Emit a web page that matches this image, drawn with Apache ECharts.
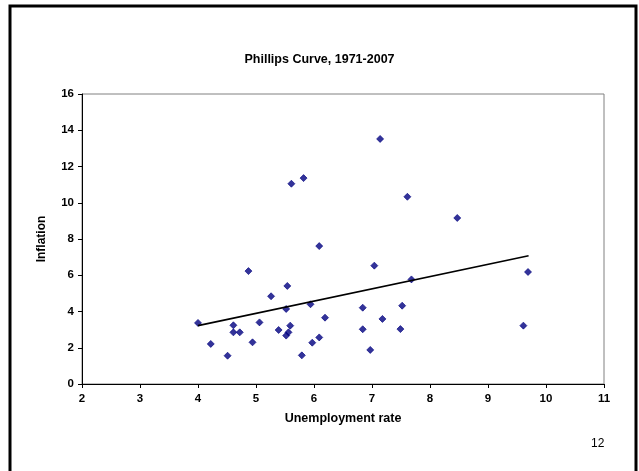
<!DOCTYPE html>
<html>
<head>
<meta charset="utf-8">
<script src="https://cdn.jsdelivr.net/npm/echarts@6/dist/echarts.min.js"></script>
<style>
  html, body { margin: 0; padding: 0; background: #fff; }
  #chart { width: 639px; height: 471px; }
</style>
</head>
<body>
<div id="chart"></div>
<script>
// Unemployment rate (%) and inflation (%) by year, 1971-2007
const unemployment = [
  4.00, 4.22, 4.51, 4.61, 4.61, 4.72, 4.87, 4.94, 5.06, 5.26,
  5.39, 5.52, 5.54, 5.52, 5.56, 5.59, 5.79, 5.94, 5.97, 6.09,
  6.09, 6.19, 5.61, 5.82, 7.14, 7.61, 8.47, 7.04, 7.68, 6.84,
  7.52, 7.18, 6.84, 7.49, 6.97, 9.61, 9.69
];
const inflation = [
  3.37, 2.21, 1.56, 3.24, 2.85, 2.85, 6.23, 2.30, 3.40, 4.84,
  2.98, 4.14, 5.41, 2.67, 2.85, 3.22, 1.58, 4.40, 2.28, 7.61,
  2.57, 3.66, 11.05, 11.36, 13.52, 10.33, 9.16, 6.53, 5.77, 4.21,
  4.32, 3.59, 3.02, 3.03, 1.88, 3.22, 6.18
];
// Linear trend line endpoints
const trendX = [4.0, 9.7];
const trendY = [3.22, 7.08];

const xTicks = { min: 2, max: 11, step: 1 };
const yTicks = { min: 0, max: 16, step: 2 };

const font = 'Liberation Sans, Arial, sans-serif';

const chart = echarts.init(document.getElementById('chart'), null, { renderer: 'canvas' });

chart.setOption({
  backgroundColor: '#ffffff',
  animation: false,
  title: {
    text: 'Phillips Curve, 1971-2007',
    left: 'center',
    top: 48,
    textStyle: { fontFamily: font, fontSize: 12.5, fontWeight: 'bold', color: '#000' }
  },
  graphic: [
    {
      type: 'rect',
      shape: { x: 10, y: 6, width: 626, height: 480 },
      style: { fill: 'none', stroke: '#000', lineWidth: 3 },
      silent: true
    },
    {
      type: 'text',
      left: 591,
      top: 438,
      style: { text: '12', font: '12px ' + font, fill: '#000' }
    }
  ],
  grid: {
    left: 82, right: 35, top: 94, bottom: 87,
    show: true,
    borderColor: '#808080',
    borderWidth: 1,
    backgroundColor: '#fff'
  },
  xAxis: {
    type: 'value',
    min: xTicks.min, max: xTicks.max, interval: xTicks.step,
    name: 'Unemployment rate',
    nameLocation: 'middle',
    nameGap: 28,
    nameTextStyle: { fontFamily: font, fontSize: 12.5, fontWeight: 'bold', color: '#000' },
    axisLine: { show: true, lineStyle: { color: '#000', width: 1 } },
    axisTick: { show: true, length: 4, inside: false, lineStyle: { color: '#000' } },
    axisLabel: { fontFamily: font, fontSize: 11.5, fontWeight: 'bold', color: '#000', margin: 9 },
    splitLine: { show: false }
  },
  yAxis: {
    type: 'value',
    min: yTicks.min, max: yTicks.max, interval: yTicks.step,
    name: 'Inflation',
    nameLocation: 'middle',
    nameGap: 34,
    nameRotate: 90,
    nameTextStyle: { fontFamily: font, fontSize: 12, fontWeight: 'bold', color: '#000' },
    axisLine: { show: true, lineStyle: { color: '#000', width: 1 } },
    axisTick: { show: true, length: 4, inside: false, lineStyle: { color: '#000' } },
    axisLabel: { fontFamily: font, fontSize: 11.5, fontWeight: 'bold', color: '#000', margin: 8 },
    splitLine: { show: false }
  },
  series: [
    {
      type: 'scatter',
      symbol: 'diamond',
      symbolSize: 7,
      itemStyle: { color: '#000080', borderColor: '#000080', borderWidth: 0.8 },
      data: unemployment.map((u, i) => [u, inflation[i]]),
      z: 3
    },
    {
      type: 'line',
      symbol: 'none',
      lineStyle: { color: '#000', width: 1.6 },
      data: trendX.map((x, i) => [x, trendY[i]]),
      z: 4
    }
  ]
});
</script>
</body>
</html>
